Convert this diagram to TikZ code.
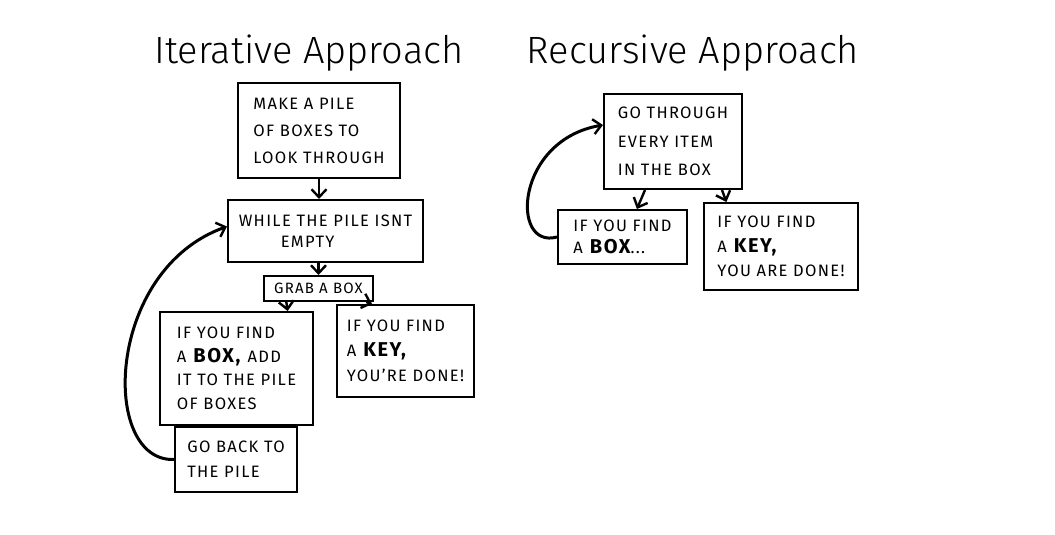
\documentclass[tikz,border=0pt]{standalone}
\usepackage{fontspec}
\setmainfont{Fira Sans}[LetterSpace=8]
\newfontfamily\titlefont{Fira Sans Light}
\usetikzlibrary{arrows.meta,calc}
\newcommand{\bigw}[1]{\textbf{\fontsize{20}{20}\selectfont #1}}
\tikzset{
  box/.style={draw,line width=2pt,rectangle,inner sep=0pt,align=left},
  arr/.style={line width=2.4pt,-{Straight Barb[length=8pt,width=15pt,line width=2.4pt]}},
  curvearr/.style={arr,line width=3pt},
  ttl/.style={font=\titlefont\fontsize{38}{40}\selectfont}
}
\begin{document}
\begin{tikzpicture}[x=1pt,y=-1pt]
\useasboundingbox (0,0) rectangle (1055,535);
% titles
\node[ttl] (t1) at (309,53) {Iterative Approach};
\node[ttl] (t2) at (693,53) {Recursive Approach};
% iterative
\node[box,minimum width=162pt,minimum height=95pt,font=\fontsize{16.5}{27}\selectfont] (b1) at (319,130.5) {MAKE A PILE\\OF BOXES TO\\LOOK THROUGH};
\node[box,minimum width=195pt,minimum height=62pt,font=\fontsize{16.5}{21}\selectfont] (b2) at (325.5,231) {WHILE THE PILE ISNT\\\hspace*{42pt}EMPTY};
\node[box,minimum width=109pt,minimum height=25pt,font=\fontsize{15}{16}\selectfont] (b3) at (318.5,288.5) {GRAB A BOX};
\node[box,minimum width=153pt,minimum height=113pt,font=\fontsize{16.5}{23.5}\selectfont] (b4) at (236.5,368.5) {IF YOU FIND\\A \bigw{BOX,} ADD\\IT TO THE PILE\\OF BOXES};
\node[box,minimum width=137pt,minimum height=92pt,font=\fontsize{16.5}{25}\selectfont] (b5) at (405.5,351) {IF YOU FIND\\A \bigw{KEY,}\\YOU'RE DONE!};
\node[box,minimum width=122pt,minimum height=65pt,font=\fontsize{16.5}{25}\selectfont] (b6) at (236,459.5) {GO BACK TO\\THE PILE};
% recursive
\node[box,minimum width=138pt,minimum height=95pt,font=\fontsize{16.5}{28.5}\selectfont] (b7) at (673,141.5) {GO THROUGH\\EVERY ITEM\\IN THE BOX};
\node[box,minimum width=129pt,minimum height=54pt,font=\fontsize{16.5}{22}\selectfont] (b8) at (622.5,237) {IF YOU FIND\\A \bigw{BOX}...};
\node[box,minimum width=154pt,minimum height=87pt,font=\fontsize{16.5}{24.5}\selectfont] (b9) at (781,246.5) {IF YOU FIND\\A \bigw{KEY,}\\YOU ARE DONE!};
% arrows
\draw[arr] (b1.south) -- (b1.south |- b2.north);
\draw[arr] (b2.south -| b3.north) -- (b3.north);
\draw[arr] ($(b3.south west)!0.21!(b3.south east)$) -- ($(b4.north west)!0.83!(b4.north east)$);
\draw[arr] ($(b3.south west)!0.93!(b3.south east)$) -- ($(b5.north west)!0.26!(b5.north east)$);
\draw[curvearr] (b6.west) .. controls (100,462) and (105,270) .. ($(b2.north west)!0.43!(b2.south west)$);
\draw[arr] ($(b7.south west)!0.3!(b7.south east)$) -- ($(b8.north west)!0.61!(b8.north east)$);
\draw[arr] ($(b7.south west)!0.85!(b7.south east)$) -- ($(b9.north west)!0.15!(b9.north east)$);
\draw[curvearr] (b8.west) .. controls (510,250) and (515,140) .. ($(b7.north west)!0.33!(b7.south west)$);
\end{tikzpicture}
\end{document}
